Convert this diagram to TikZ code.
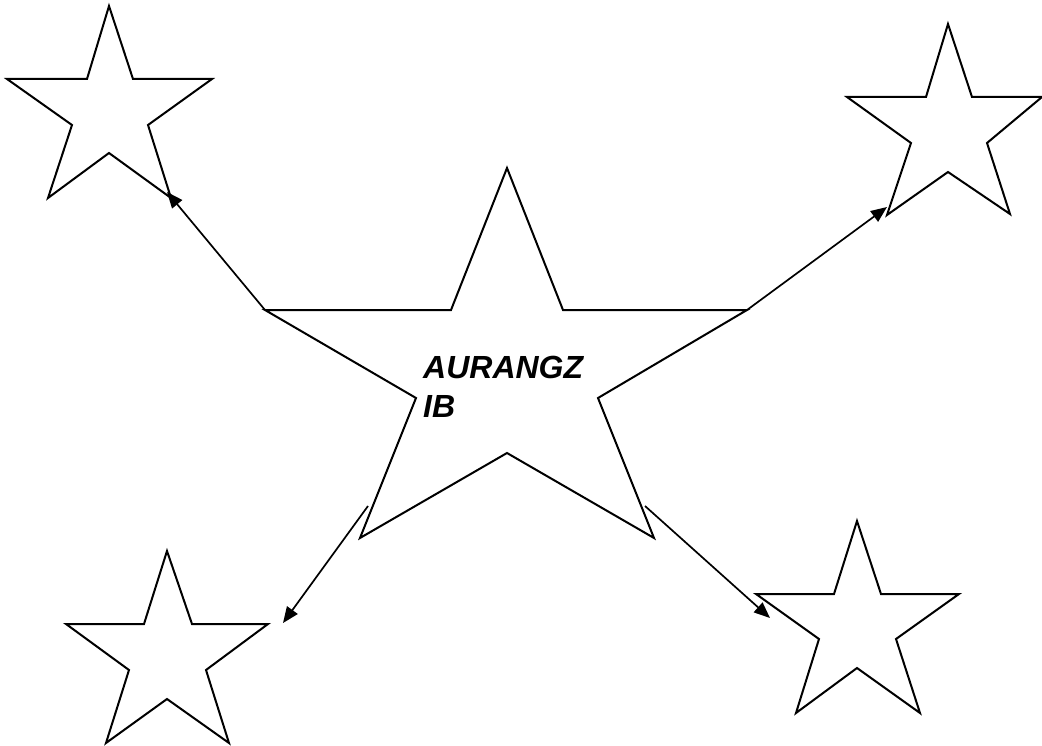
\documentclass[tikz,border=0pt]{standalone}
\usepackage{fontspec}
\setmainfont{Liberation Sans}
\usetikzlibrary{arrows.meta}
\begin{document}
\begin{tikzpicture}[x=1pt,y=-1pt,
  starline/.style={draw=black,line width=2pt,line join=miter,fill=white},
  link/.style={draw=black,line width=1.7pt,-{Triangle[length=16pt,width=13pt]}},
  label/.style={font=\fontsize{32}{39}\selectfont\bfseries\itshape,inner sep=0pt,align=left,anchor=base west}]
\useasboundingbox (0,0) rectangle (1042,746);
% central star
\draw[starline] (507,168) -- (563,310) -- (747,310) -- (598,398) -- (654,538) -- (507,453)
  -- (360,538) -- (416,398) -- (265,310) -- (451,310) -- cycle;
\coordinate (cL) at (265,310);
\coordinate (cR) at (747,310);
\coordinate (cBL) at (368,506);
\coordinate (cBR) at (645,506);
% upper-left star
\draw[starline] (109,6) -- (133,79) -- (212,79) -- (148,125) -- (171,198) -- (109,153)
  -- (48,198) -- (72,125) -- (7,79) -- (87,79) -- cycle;
\coordinate (tUL) at (167,192);
% upper-right star
\draw[starline] (948,24) -- (972,97) -- (1042,97) -- (987,143) -- (1010,214) -- (948,172)
  -- (887,215) -- (911,143) -- (847,97) -- (926,97) -- cycle;
\coordinate (tUR) at (887,207);
% lower-left star
\draw[starline] (167,551) -- (192,624) -- (268,624) -- (206,670) -- (229,743) -- (167,699)
  -- (106,743) -- (129,670) -- (66,624) -- (144,624) -- cycle;
\coordinate (tLL) at (283,623);
% lower-right star
\draw[starline] (857,521) -- (881,594) -- (959,594) -- (896,639) -- (920,713) -- (857,668)
  -- (796,713) -- (819,639) -- (756,594) -- (834,594) -- cycle;
\coordinate (tLR) at (770,618);
% connectors
\draw[link] (cL) -- (tUL);
\draw[link] (cR) -- (tUR);
\draw[link] (cBL) -- (tLL);
\draw[link] (cBR) -- (tLR);
% label
\node[label] (name) at (423,417) {AURANGZ\\IB};
\end{tikzpicture}
\end{document}
